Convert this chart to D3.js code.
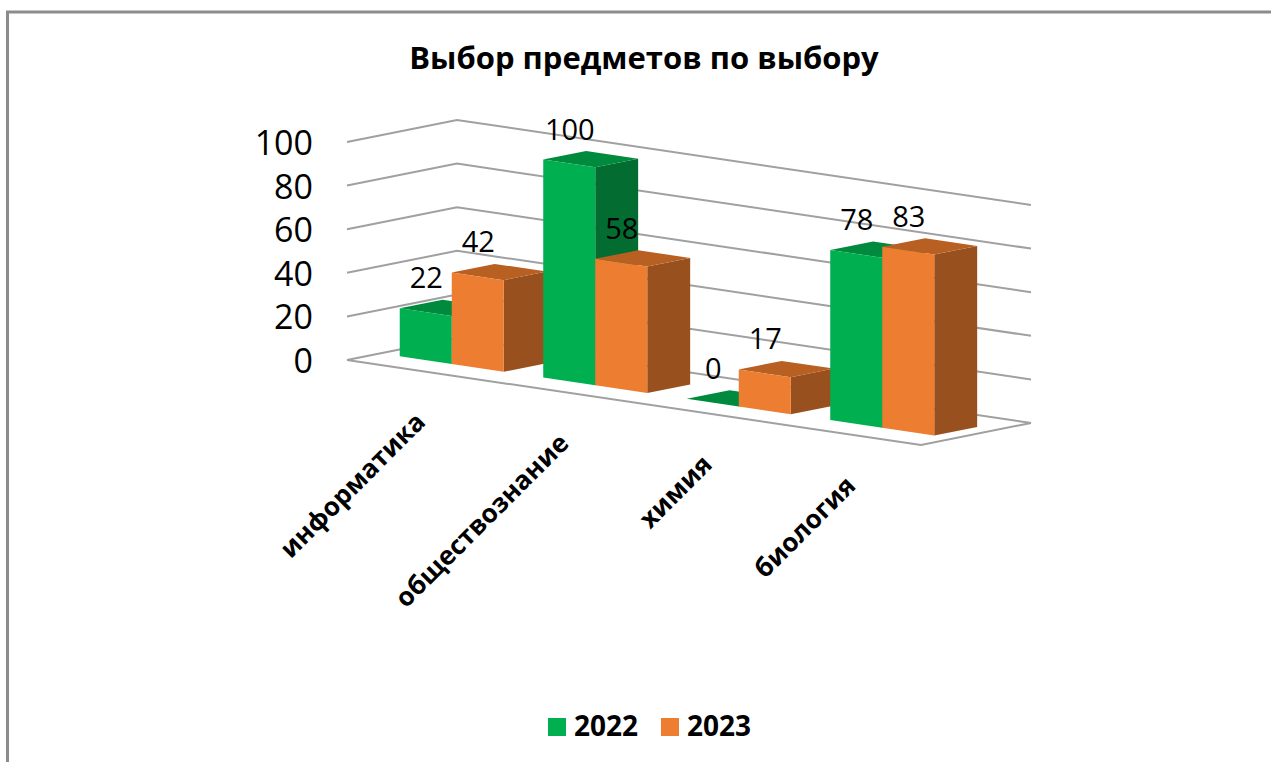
<!DOCTYPE html>
<html>
    <head>
        <meta charset="utf-8">
        <title>Выбор предметов по выбору</title>
        <style>
html, body {
    margin: 0;
    padding: 0;
    background-color: white;
}

svg {
    display: block;
}

text {
    font-family: 'Open Sans', sans-serif;
    fill: #000;
}

.title, .category, .legend-label {
    font-weight: bold;
}
        </style>
        <script src="https://cdn.jsdelivr.net/npm/d3@7"></script>
    </head>
    <body>
        <script>
var categories = ["информатика", "обществознание", "химия", "биология"];
var seriesNames = ["2022", "2023"];
var values2022 = [22, 100, 0, 78];
var values2023 = [42, 58, 17, 83];
var valueTicks = [0, 20, 40, 60, 80, 100];

var width = 1271,
    height = 762;

var colors = {
    "2022": { front: "#00b050", top: "#008a3e", side: "#036c30" },
    "2023": { front: "#ed7d31", top: "#b85f22", side: "#98501e" }
};

// oblique box: origin is the front left corner of the floor
var originX = 347,
    originY = 360;
var frontLength = 574,
    slope = 85 / 574;
var depthX = 110,
    depthY = -22;
var barDepthStart = 0.3,
    barDepthEnd = 0.69;

var band = d3.scaleBand()
    .domain(categories)
    .range([0, frontLength])
    .paddingInner(0.275)
    .paddingOuter(0.1375);

var inner = d3.scaleBand()
    .domain(seriesNames)
    .range([0, band.bandwidth()]);

var rise = d3.scaleLinear()
    .domain([0, 100])
    .range([0, 218]);

// along the front edge (px), into the depth (0-1), up by value
var project = function (along, depth, value) {
    return [
        originX + along + depthX * depth,
        originY + along * slope + depthY * depth - rise(value)
    ];
};

var line = d3.line();

var svg = d3.select("body")
    .append("svg")
    .attr("width", width)
    .attr("height", height);

svg.append("rect")
    .attr("width", width)
    .attr("height", height)
    .attr("fill", "white");

// frame of the original picture, only the top and left sides show
svg.append("path")
    .attr("d", line([[7.5, height], [7.5, 12], [width, 12]]))
    .attr("fill", "none")
    .attr("stroke", "#8c8c8c")
    .attr("stroke-width", 3);

svg.append("text")
    .attr("class", "title")
    .attr("x", 644)
    .attr("y", 69)
    .attr("text-anchor", "middle")
    .style("font-size", "31px")
    .text("Выбор предметов по выбору");

// walls and floor
var wallLine = function (value) {
    return line([
        project(0, 0, value),
        project(0, 1, value),
        project(frontLength, 1, value)
    ]);
};

svg.selectAll(".grid")
    .data(valueTicks)
    .enter()
    .append("path")
    .attr("class", "grid")
    .attr("d", wallLine)
    .attr("fill", "none")
    .attr("stroke", "#a0a0a0")
    .attr("stroke-width", 2);

svg.append("path")
    .attr("d", line([
        project(0, 0, 0),
        project(frontLength, 0, 0),
        project(frontLength, 1, 0)
    ]))
    .attr("fill", "none")
    .attr("stroke", "#a0a0a0")
    .attr("stroke-width", 2);

svg.selectAll(".tick-label")
    .data(valueTicks)
    .enter()
    .append("text")
    .attr("class", "tick-label")
    .attr("x", 313)
    .attr("y", function (d) { return project(0, 0, d)[1] + 13; })
    .attr("text-anchor", "end")
    .style("font-size", "34px")
    .text(function (d) { return d; });

// bars, left to right so that the nearer faces cover the earlier ones
var drawBar = function (category, name, value) {
    var left = band(category) + inner(name);
    var right = left + inner.bandwidth();
    var group = svg.append("g");

    group.append("path")
        .attr("d", line([
            project(right, barDepthStart, 0),
            project(right, barDepthEnd, 0),
            project(right, barDepthEnd, value),
            project(right, barDepthStart, value)
        ]) + "Z")
        .attr("fill", colors[name].side);

    group.append("path")
        .attr("d", line([
            project(left, barDepthStart, value),
            project(right, barDepthStart, value),
            project(right, barDepthEnd, value),
            project(left, barDepthEnd, value)
        ]) + "Z")
        .attr("fill", colors[name].top);

    group.append("path")
        .attr("d", line([
            project(left, barDepthStart, 0),
            project(right, barDepthStart, 0),
            project(right, barDepthStart, value),
            project(left, barDepthStart, value)
        ]) + "Z")
        .attr("fill", colors[name].front);
};

categories.forEach(function (category, i) {
    drawBar(category, "2022", values2022[i]);
    drawBar(category, "2023", values2023[i]);
});

// data labels sit above the bar top
var drawValue = function (category, name, value) {
    var along = band(category) + inner(name) + inner.bandwidth() / 2;
    var p = project(along, 0.4775, value);
    svg.append("text")
        .attr("x", p[0] - 19)
        .attr("y", p[1] - 20)
        .attr("text-anchor", "middle")
        .style("font-size", "29px")
        .text(value);
};

categories.forEach(function (category, i) {
    drawValue(category, "2022", values2022[i]);
    drawValue(category, "2023", values2023[i]);
});

// category labels turned 45 degrees, ending under each group
categories.forEach(function (category) {
    var along = band(category) + band.bandwidth() / 2;
    var p = project(along, 0, 0);
    svg.append("text")
        .attr("class", "category")
        .attr("text-anchor", "end")
        .attr("transform", "translate(" + (p[0] + 8) + "," + (p[1] + 53) + ") rotate(-45)")
        .style("font-size", "26px")
        .text(category);
});

// legend
var legendX = d3.scaleOrdinal()
    .domain(seriesNames)
    .range([548, 661]);

seriesNames.forEach(function (name) {
    svg.append("rect")
        .attr("x", legendX(name))
        .attr("y", 718)
        .attr("width", 18)
        .attr("height", 18)
        .attr("fill", colors[name].front);

    svg.append("text")
        .attr("class", "legend-label")
        .attr("x", legendX(name) + 26)
        .attr("y", 736)
        .style("font-size", "28px")
        .text(name);
});
        </script>
    </body>
</html>
